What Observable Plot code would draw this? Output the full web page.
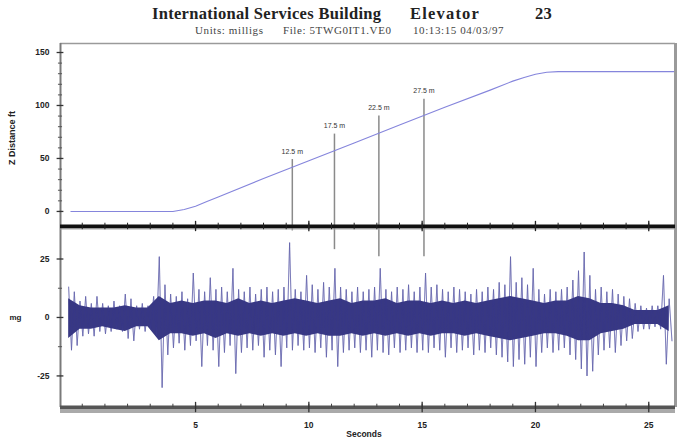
<!DOCTYPE html>
<html><head><meta charset="utf-8">
<script src="https://cdn.jsdelivr.net/npm/d3@7"></script>
<script src="https://cdn.jsdelivr.net/npm/@observablehq/plot@0.6"></script>
<style>
html,body{margin:0;padding:0;background:#fff;}
#wrap{position:relative;width:681px;height:443px;overflow:hidden;background:#fff;}
.t{position:absolute;white-space:nowrap;font-family:"Liberation Serif","DejaVu Serif",serif;color:#222;}
.big{font-size:16.5px;top:4px;font-weight:bold;letter-spacing:0.3px;}
.small{font-size:11px;top:24px;color:#444;letter-spacing:0.6px;}
#top,#bot{position:absolute;left:0;}
#top{top:35px;} #bot{top:222px;}
svg{overflow:visible;}
</style></head>
<body>
<div id="wrap">
  <div class="t big" style="left:152px">International Services Building</div>
  <div class="t big" style="left:410px;letter-spacing:1.2px">Elevator</div>
  <div class="t big" style="left:535px">23</div>
  <div class="t small" style="left:195px">Units: milligs</div>
  <div class="t small" style="left:283px">File: 5TWG0IT1.VE0</div>
  <div class="t small" style="left:413px">10:13:15 04/03/97</div>
  <div id="top"></div>
  <div id="bot"></div>
</div>
<script>
// ---- data ----
const secondsTicks = [5, 10, 15, 20, 25];
const distTicks = [0, 50, 100, 150];
const accTicks = [-25, 0, 25];

// elevator travel (Z distance, ft) vs seconds
const distT = [-0.5, 4.0, 4.5, 5.0, 5.5, 6.0, 8.0, 10.0, 12.0, 14.0, 16.0, 18.0, 19.0, 19.5, 20.0, 20.5, 21.0, 26.1];
const distV = [0, 0, 1.8, 5, 9.3, 13.6, 31.1, 47.9, 64.7, 81.5, 98.3, 114.5, 123, 126.5, 129.5, 131.3, 132, 132];

// height markers
const markerT = [9.27, 11.13, 13.09, 15.08];
const markerLabels = ["12.5 m", "17.5 m", "22.5 m", "27.5 m"];
const markerTopFt = [49, 73, 90, 106];
const markerBotMg = [37, 29, 26, 26];

// vibration signal: outer envelope per 0.25 s bin, starting at -0.6 s
const sigStart = -0.6, sigStep = 0.25;
const sigHi = [13,11,7,9,6,9,6,5,7,5,10,8,5,6,5,9,26,14,10,9,11,8,19,12,11,17,12,13,11,21,12,11,13,10,12,13,11,12,13,32,12,11,18,14,12,15,13,21,13,12,11,13,11,12,13,21,12,11,13,12,14,11,13,19,13,14,12,11,13,12,11,10,12,11,13,12,15,14,26,15,17,14,21,12,10,12,11,12,13,16,20,28,18,12,13,11,12,10,9,8,6,5,4,5,5,18,8];
const sigLo = [-14,-12,-8,-7,-8,-6,-7,-6,-5,-6,-9,-10,-5,-6,-5,-8,-30,-16,-13,-11,-14,-12,-10,-21,-12,-14,-21,-15,-12,-24,-15,-13,-14,-12,-17,-14,-16,-21,-13,-14,-12,-14,-13,-15,-13,-17,-14,-21,-15,-14,-13,-15,-14,-17,-14,-15,-16,-13,-15,-14,-13,-15,-14,-15,-13,-14,-17,-13,-15,-14,-13,-16,-14,-15,-13,-16,-17,-19,-21,-18,-20,-17,-21,-15,-13,-15,-14,-13,-16,-18,-22,-25,-23,-16,-14,-13,-15,-12,-10,-9,-6,-5,-5,-4,-5,-20,-10];
// dense core of the signal per 0.5 s, starting at -0.6 s
const coreStart = -0.6, coreStep = 0.5;
const coreHi = [8,5,4,4,4,5,4,4,9,6,7,6,7,7,6,8,6,7,6,7,8,7,6,7,8,6,7,7,8,6,7,7,6,7,6,7,6,7,8,9,8,7,6,7,7,9,8,6,6,5,3,3,3,5];
const coreLo = [-9,-5,-5,-4,-5,-6,-4,-4,-10,-7,-7,-8,-7,-9,-7,-8,-7,-8,-7,-8,-7,-8,-7,-8,-8,-7,-8,-7,-8,-7,-8,-7,-8,-7,-7,-8,-7,-8,-9,-10,-9,-8,-7,-7,-8,-10,-10,-7,-6,-5,-3,-3,-3,-6];

// ---- derived tables ----
const X0 = -0.96, X1 = 26.18;
const distData = distT.map((t, i) => ({t, v: distV[i]}));
const markers = markerT.map((t, i) => ({t, label: markerLabels[i], top: markerTopFt[i], bot: markerBotMg[i]}));
const bins = sigHi.map((h, i) => ({t: sigStart + i * sigStep, hi: h, lo: sigLo[i]}));
const zig = [];
bins.forEach(b => {
  zig.push({t: b.t, v: b.hi});
  zig.push({t: b.t + sigStep / 2, v: b.lo});
});
const core = coreHi.map((h, i) => ({t: coreStart + i * coreStep, hi: h, lo: coreLo[i]}));

const font = "Liberation Sans, Arial, sans-serif";
const TY0 = -14.2, TY1 = 158.5;
const BY0 = -38.5, BY1 = 38.9;

const topPlot = Plot.plot({
  width: 681, height: 191,
  marginLeft: 60, marginRight: 6, marginTop: 8, marginBottom: 0,
  style: {fontFamily: font, background: "transparent"},
  x: {domain: [X0, X1], axis: null},
  y: {domain: [TY0, TY1], axis: null},
  marks: [
    Plot.ruleY([TY1], {stroke: "#9a9a9a", strokeWidth: 1.5}),
    Plot.ruleX([X1], {stroke: "#9a9a9a", strokeWidth: 3}),
    Plot.ruleX([X0], {stroke: "#7a7a7a", strokeWidth: 2}),
    Plot.ruleY(d3.range(0, 151, 10), {x1: X0 - 0.09, x2: X0 + 0.09, stroke: "#555"}),
    Plot.ruleY(distTicks, {x1: X0 - 0.15, x2: X0 + 0.15, stroke: "#333", strokeWidth: 1.3}),
    Plot.text(distTicks, {x: X0, y: d => d, text: d => String(d), dx: -11, textAnchor: "end", fontSize: 8.5, fontWeight: "bold", fill: "#222"}),
    Plot.text(["Z Distance ft"], {frameAnchor: "left", textAnchor: "middle", rotate: -90, dx: -48, dy: 3, fontSize: 9, fontWeight: "bold", fill: "#222"}),
    Plot.ruleX(markers, {x: "t", y1: TY0, y2: "top", stroke: "#8a8a8a", strokeWidth: 1.5}),
    Plot.text(markers, {x: "t", y: "top", text: "label", dy: -8, fontSize: 7, fill: "#333"}),
    Plot.line(distData, {x: "t", y: "v", stroke: "#8585dc", strokeWidth: 1.1})
  ]
});
document.getElementById("top").append(topPlot);

const botPlot = Plot.plot({
  width: 681, height: 221,
  marginLeft: 60, marginRight: 6, marginTop: 4, marginBottom: 36,
  style: {fontFamily: font, background: "transparent"},
  x: {domain: [X0, X1], axis: null},
  y: {domain: [BY0, BY1], axis: null},
  marks: [
    Plot.ruleX(markers, {x: "t", y1: BY1, y2: "bot", stroke: "#8a8a8a", strokeWidth: 1.5}),
    Plot.line(zig, {x: "t", y: "v", stroke: "#7474b6", strokeOpacity: 0.85, strokeWidth: 1}),
    Plot.areaY(core, {x: "t", y1: "lo", y2: "hi", fill: "#29297a", fillOpacity: 0.93}),
    Plot.line(zig, {x: "t", y: "v", stroke: "#5050a0", strokeOpacity: 0.3, strokeWidth: 0.8}),
    Plot.ruleX([X1], {stroke: "#9a9a9a", strokeWidth: 3}),
    Plot.ruleX([X0], {stroke: "#7a7a7a", strokeWidth: 2}),
    Plot.ruleY([-12.5, 12.5], {x1: X0 - 0.09, x2: X0 + 0.09, stroke: "#555"}),
    Plot.ruleY(accTicks, {x1: X0 - 0.15, x2: X0 + 0.15, stroke: "#333", strokeWidth: 1.3}),
    Plot.text(accTicks, {x: X0, y: d => d, text: d => String(d), dx: -11, textAnchor: "end", fontSize: 8.5, fontWeight: "bold", fill: "#222"}),
    Plot.text(["mg"], {frameAnchor: "left", dx: -51, fontSize: 8, fontWeight: "bold", fill: "#222"}),
    // separator
    Plot.ruleY([BY1], {stroke: "#111", strokeWidth: 4}),
    Plot.ruleY([BY1], {stroke: "#aaa", strokeWidth: 1, dy: 2.5}),
    Plot.ruleX(d3.range(0, 26), {y1: BY1 - 1.4, y2: BY1 + 1.4, stroke: "#222"}),
    Plot.ruleX(secondsTicks, {y1: BY1 - 2.2, y2: BY1 + 2.2, stroke: "#222", strokeWidth: 1.3}),
    // bottom axis
    Plot.ruleY([BY0], {stroke: "#aaa", strokeWidth: 3, dy: 4}),
    Plot.ruleY([BY0], {stroke: "#555", strokeWidth: 4}),
    Plot.ruleX(d3.range(0, 26), {y1: BY0, y2: BY0 + 1.4, stroke: "#444"}),
    Plot.ruleX(secondsTicks, {y1: BY0 - 2.2, y2: BY0 + 2.2, stroke: "#333", strokeWidth: 1.3}),
    Plot.text(secondsTicks, {x: d => d, y: BY0, text: d => String(d), dy: 18, fontSize: 8.5, fontWeight: "bold", fill: "#222"}),
    Plot.text(["Seconds"], {frameAnchor: "bottom", dx: -4, dy: 29, fontSize: 8.5, fontWeight: "bold", fill: "#222"})
  ]
});
document.getElementById("bot").append(botPlot);
</script>
</body></html>
